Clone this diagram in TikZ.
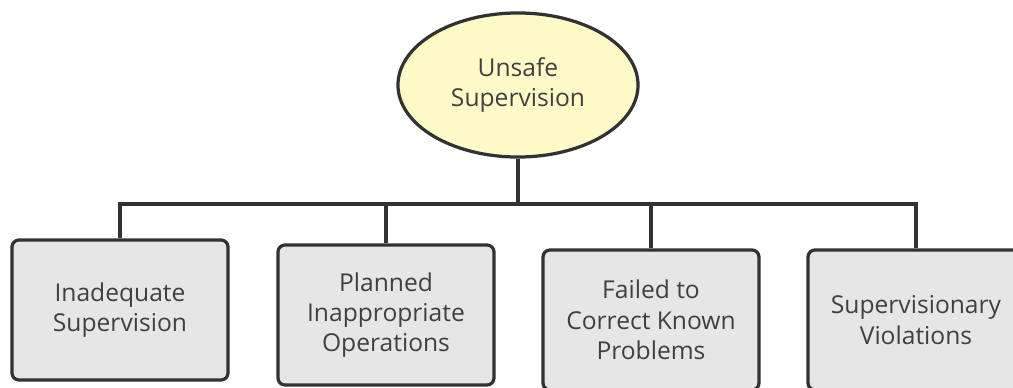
\documentclass[tikz,border=0pt]{standalone}
\usepackage{fontspec}
\setmainfont{Open Sans}
\usepackage{tikz}
\usetikzlibrary{shapes,positioning}
\definecolor{paleyellow}{RGB}{255,250,200}
\definecolor{boxgray}{RGB}{230,230,230}
\definecolor{linegray}{RGB}{50,50,50}
\definecolor{textgray}{RGB}{64,64,64}

\begin{document}
\begin{tikzpicture}[x=0.025cm,y=-0.025cm,
    topnode/.style={ellipse, draw=linegray, line width=2.3pt, fill=paleyellow,
      minimum width=6cm, minimum height=3.6cm, align=center,
      text=textgray, font=\fontsize{17.5}{21.5}\selectfont},
    subnode/.style={rectangle, rounded corners=5pt, draw=linegray, line width=2.3pt,
      fill=boxgray, minimum width=5.4cm, minimum height=3.5cm, align=center,
      text=textgray, font=\fontsize{17.5}{21.5}\selectfont},
    link/.style={draw=linegray, line width=2.3pt}]
        \clip (0,0) rectangle (1013,388);
        \useasboundingbox (0,0) rectangle (1013,388);
        \node[topnode] (unsafe) at (518,85) {Unsafe\\Supervision};
        \node[subnode] (inadequate) at (120,310) {Inadequate\\Supervision};
        \node[subnode] (planned) at (386,315) {Planned\\Inappropriate\\Operations};
        \node[subnode] (failed) at (651,320) {Failed to\\Correct Known\\Problems};
        \node[subnode] (violations) at (916,320) {Supervisionary\\Violations};
        % the bus under the ellipse
        \coordinate (bus) at (518,204);
        \draw[link] (unsafe.south) -- (bus);
        \draw[link] (inadequate.north) |- (bus);
        \draw[link] (violations.north) |- (bus);
        \draw[link] (planned.north) -- (planned.north |- bus);
        \draw[link] (failed.north) -- (failed.north |- bus);
      \end{tikzpicture}
\end{document}
